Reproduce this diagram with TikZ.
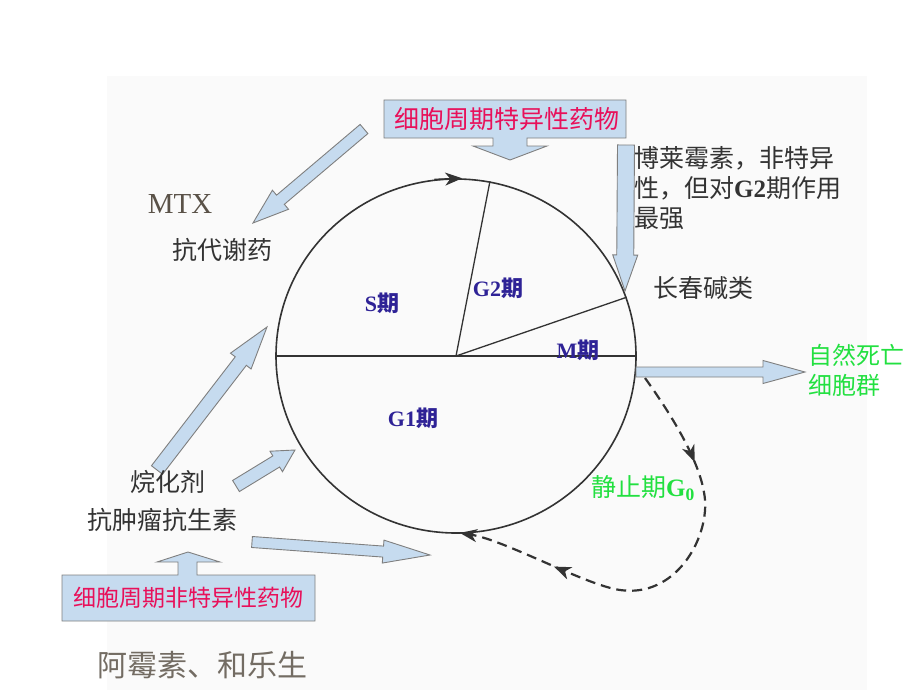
\documentclass[tikz,border=0pt]{standalone}
\usepackage{fontspec}
\setmainfont{Liberation Serif}
\newfontfamily\cjk{Noto Sans CJK SC}
\usetikzlibrary{calc,arrows.meta,decorations.markings,shapes.geometric}
\definecolor{crim}{HTML}{E8105A}
\definecolor{navy}{HTML}{2E2296}
\definecolor{grn}{HTML}{22E040}
\definecolor{dtxt}{HTML}{333333}
\definecolor{btxt}{HTML}{5A5248}
\definecolor{arrowblue}{HTML}{C6DBEF}
\definecolor{arrowgray}{HTML}{7F7F7F}
\definecolor{bgpale}{HTML}{FAFAFA}
\definecolor{circ}{HTML}{333333}
\newcommand{\fsz}[2]{\fontsize{#1}{#2}\selectfont}
\newcommand{\barrow}[5]{%
  \coordinate (ba-h) at ($(#2)!#5!(#1)$);
  \draw[blk] ($(#1)!#3!90:(#2)$) -- ($(ba-h)!#3!-90:(#1)$) -- ($(ba-h)!#4!-90:(#1)$)
    -- (#2) -- ($(ba-h)!#4!90:(#1)$) -- ($(ba-h)!#3!90:(#1)$) -- ($(#1)!#3!-90:(#2)$) -- cycle;}
\tikzset{
  blk/.style={draw=arrowgray, fill=arrowblue, line width=0.9pt, line join=miter},
  lbl/.style={inner sep=0pt, text=dtxt},
  phase/.style={inner sep=0pt, text=navy, font=\fsz{22}{26}\bfseries},
  circline/.style={draw=circ, line width=1.6pt},
  tipA/.style={-{Stealth[length=17pt,width=13pt,inset=5pt]}},
}
\begin{document}
\begin{tikzpicture}[x=1pt,y=-1pt]
\useasboundingbox (0,0) rectangle (920,690);
\fill[bgpale] (107,76) rectangle (867,690);

% cycle
\node[circline, ellipse, minimum width=360pt, minimum height=354pt, inner sep=0pt] (cyc) at (456,356) {};
\draw[circline, line width=1.3pt] (cyc.west) -- (cyc.east);
\draw[circline, line width=1.3pt] (cyc.center) -- (cyc.79);
\draw[circline, line width=1.3pt] (cyc.center) -- (cyc.19);
\draw[circline, tipA] (cyc.97) -- (cyc.88);

% dashed G0 loop
\coordinate (d0) at (645,378);
\coordinate (d1) at (705,500);
\coordinate (d2) at (620,590);
\coordinate (d3) at (460,533);
\draw[circline, line width=2.2pt, dash pattern=on 10pt off 6pt, tipA,
  decoration={markings,
    mark=at position 98pt with {\arrow{Stealth[length=17pt,width=13pt,inset=5pt]}},
    mark=at position -100pt with {\arrow{Stealth[length=17pt,width=13pt,inset=5pt]}}},
  postaction={decorate}]
  (d0) .. controls (668,410) and (702,462) .. (d1)
  .. controls (708,540) and (675,598) .. (d2)
  .. controls (585,585) and (505,540) .. (d3);

% top callout box
\draw[blk] (384,100) -- (626,100) -- (626,138) -- (527,138) -- (527,146) -- (547,146)
  -- (510,160) -- (473,146) -- (493,146) -- (493,138) -- (384,138) -- cycle;
\node[inner sep=0pt, text=crim, font=\cjk\fsz{25}{30}] (spec) at (507,119) {细胞周期特异性药物};

% bottom callout box
\draw[blk] (62,621) -- (315,621) -- (315,575) -- (197,575) -- (197,562) -- (220,562)
  -- (188,552) -- (157,562) -- (178,562) -- (178,575) -- (62,575) -- cycle;
\node[inner sep=0pt, text=crim, font=\cjk\fsz{23}{28}] (nspec) at (188,598) {细胞周期非特异性药物};

% block arrows
\coordinate (a1t) at (364,129); \coordinate (a1h) at (253,223);
\barrow{a1t}{a1h}{6pt}{12.5pt}{36pt}
\coordinate (a2t) at (626,145); \coordinate (a2h) at (625,291);
\barrow{a2t}{a2h}{8.5pt}{12.5pt}{36pt}
\coordinate (a3t) at (157,470); \coordinate (a3h) at (267,327);
\barrow{a3t}{a3h}{7pt}{13pt}{43pt}
\coordinate (a4t) at (236,486); \coordinate (a4h) at (295,450);
\barrow{a4t}{a4h}{6.5pt}{12pt}{22pt}
\coordinate (a5t) at (252,542); \coordinate (a5h) at (430,555);
\barrow{a5t}{a5h}{5.5pt}{11.5pt}{47pt}
\coordinate (a6t) at (636,372); \coordinate (a6h) at (805,372);
\barrow{a6t}{a6h}{5pt}{11.5pt}{42pt}

% labels
\node[lbl, anchor=west, align=left, font=\cjk\fsz{25}{30}] (bly) at (634,188)
  {博莱霉素，非特异\\性，但对{\rmfamily\bfseries G2}期作用\\最强};
\node[lbl, anchor=west, font=\cjk\fsz{25}{30}] (cc) at (653,288) {长春碱类};
\node[inner sep=0pt, text=btxt, font=\fsz{29}{34}] (mtx) at (180,204) {MTX};
\node[lbl, font=\cjk\fsz{25}{30}] (kdx) at (222,250) {抗代谢药};
\node[phase] (sq) at (382,303) {S{\cjk\bfseries 期}};
\node[phase] (g2q) at (498,288) {G2{\cjk\bfseries 期}};
\node[phase] (mq) at (578,350) {M{\cjk\bfseries 期}};
\node[phase] (g1q) at (413,418) {G1{\cjk\bfseries 期}};
\node[inner sep=0pt, text=grn, anchor=west, align=left, font=\cjk\fsz{24}{30}] (die) at (808,370)
  {自然死亡\\细胞群};
\node[inner sep=0pt, text=grn, anchor=west, font=\fsz{25}{30}] (g0) at (591,488)
  {{\cjk 静止期}{\bfseries G$_{\mathbf{0}}$}};
\node[lbl, font=\cjk\fsz{25}{30}] (whj) at (168,482) {烷化剂};
\node[lbl, font=\cjk\fsz{25}{30}] (kzl) at (162,520) {抗肿瘤抗生素};
\node[inner sep=0pt, text=btxt!85, font=\cjk\fsz{30}{34}] (amy) at (202,665) {阿霉素、和乐生};
\end{tikzpicture}
\end{document}
